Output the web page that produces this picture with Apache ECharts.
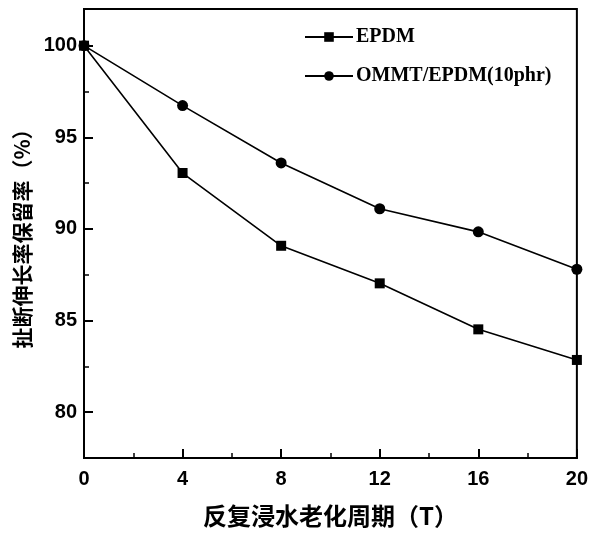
<!DOCTYPE html>
<html><head><meta charset="utf-8">
<script src="https://cdn.jsdelivr.net/npm/echarts@6/dist/echarts.min.js"></script>
<style>html,body{margin:0;padding:0;background:#fff}#c{width:591px;height:533px}</style>
</head><body><div id="c"></div>
<script>
const cycles = [0, 4, 8, 12, 16, 20];
const epdm = [100, 93.05, 89.08, 87.03, 84.52, 82.85];
const ommt = [100, 96.73, 93.6, 91.1, 89.84, 87.8];
const seriesNames = ['EPDM', 'OMMT/EPDM(10phr)'];
const yMajorTicks = [80, 85, 90, 95, 100];
const yMinorTicks = [82.5, 87.5, 92.5, 97.5];
const xName = '反复浸水老化周期（T）';
const yName = '扯断伸长率保留率（%）';

const chart = echarts.init(document.getElementById('c'), null, {renderer: 'canvas'});
const tickFont = {fontFamily: 'Liberation Sans', fontWeight: 'bold', fontSize: 20, color: '#000'};
chart.setOption({
  animation: false,
  backgroundColor: '#fff',
  grid: {left: 84, right: 11, top: 9, bottom: 74, show: true, borderColor: '#000', borderWidth: 2, backgroundColor: 'transparent'},
  legend: {
    orient: 'vertical', left: 299, top: 22, itemWidth: 48, itemHeight: 12, itemGap: 19,
    textStyle: {fontFamily: 'Liberation Serif', fontWeight: 'bold', fontSize: 20, color: '#000', padding: [0,0,0,-2]},
    data: seriesNames
  },
  xAxis: {
    type: 'value', min: 0, max: 20, interval: 4,
    name: xName, nameLocation: 'middle', nameGap: 46,
    nameTextStyle: {fontFamily: 'Noto Sans CJK SC', fontWeight: 'bold', fontSize: 24, color: '#000'},
    axisLine: {show: true, lineStyle: {color: '#000', width: 2}},
    axisTick: {show: true, inside: true, length: 9, lineStyle: {color: '#000', width: 2}},
    minorTick: {show: true, splitNumber: 2, length: 5, lineStyle: {color: '#000', width: 1.5}},
    axisLabel: Object.assign({margin: 11}, tickFont),
    splitLine: {show: false}
  },
  yAxis: [{
    type: 'value', min: 77.5, max: 102,
    name: yName, nameLocation: 'middle', nameGap: 50, nameRotate: 90,
    nameTextStyle: {fontFamily: 'Noto Sans CJK SC', fontWeight: 'bold', fontSize: 21, color: '#000'},
    axisLine: {show: true, lineStyle: {color: '#000', width: 2}},
    axisTick: {show: true, inside: true, length: 9, customValues: yMajorTicks, lineStyle: {color: '#000', width: 2}},
    axisLabel: Object.assign({margin: 7, customValues: yMajorTicks}, tickFont),
    splitLine: {show: false}
  }, {
    type: 'value', min: 77.5, max: 102, position: 'left',
    axisLine: {show: false},
    axisTick: {show: true, inside: true, length: 5, customValues: yMinorTicks, lineStyle: {color: '#000', width: 1.5}},
    axisLabel: {show: false, customValues: yMinorTicks},
    splitLine: {show: false}
  }],
  series: [{
    name: seriesNames[0], type: 'line', yAxisIndex: 0,
    data: cycles.map((c, i) => [c, epdm[i]]),
    symbol: 'rect', symbolSize: 10, showAllSymbol: true,
    lineStyle: {color: '#000', width: 1.6}, itemStyle: {color: '#000'}
  }, {
    name: seriesNames[1], type: 'line', yAxisIndex: 0,
    data: cycles.map((c, i) => [c, ommt[i]]),
    symbol: 'circle', symbolSize: 11, showAllSymbol: true,
    lineStyle: {color: '#000', width: 1.6}, itemStyle: {color: '#000'}
  }]
});
</script></body></html>
